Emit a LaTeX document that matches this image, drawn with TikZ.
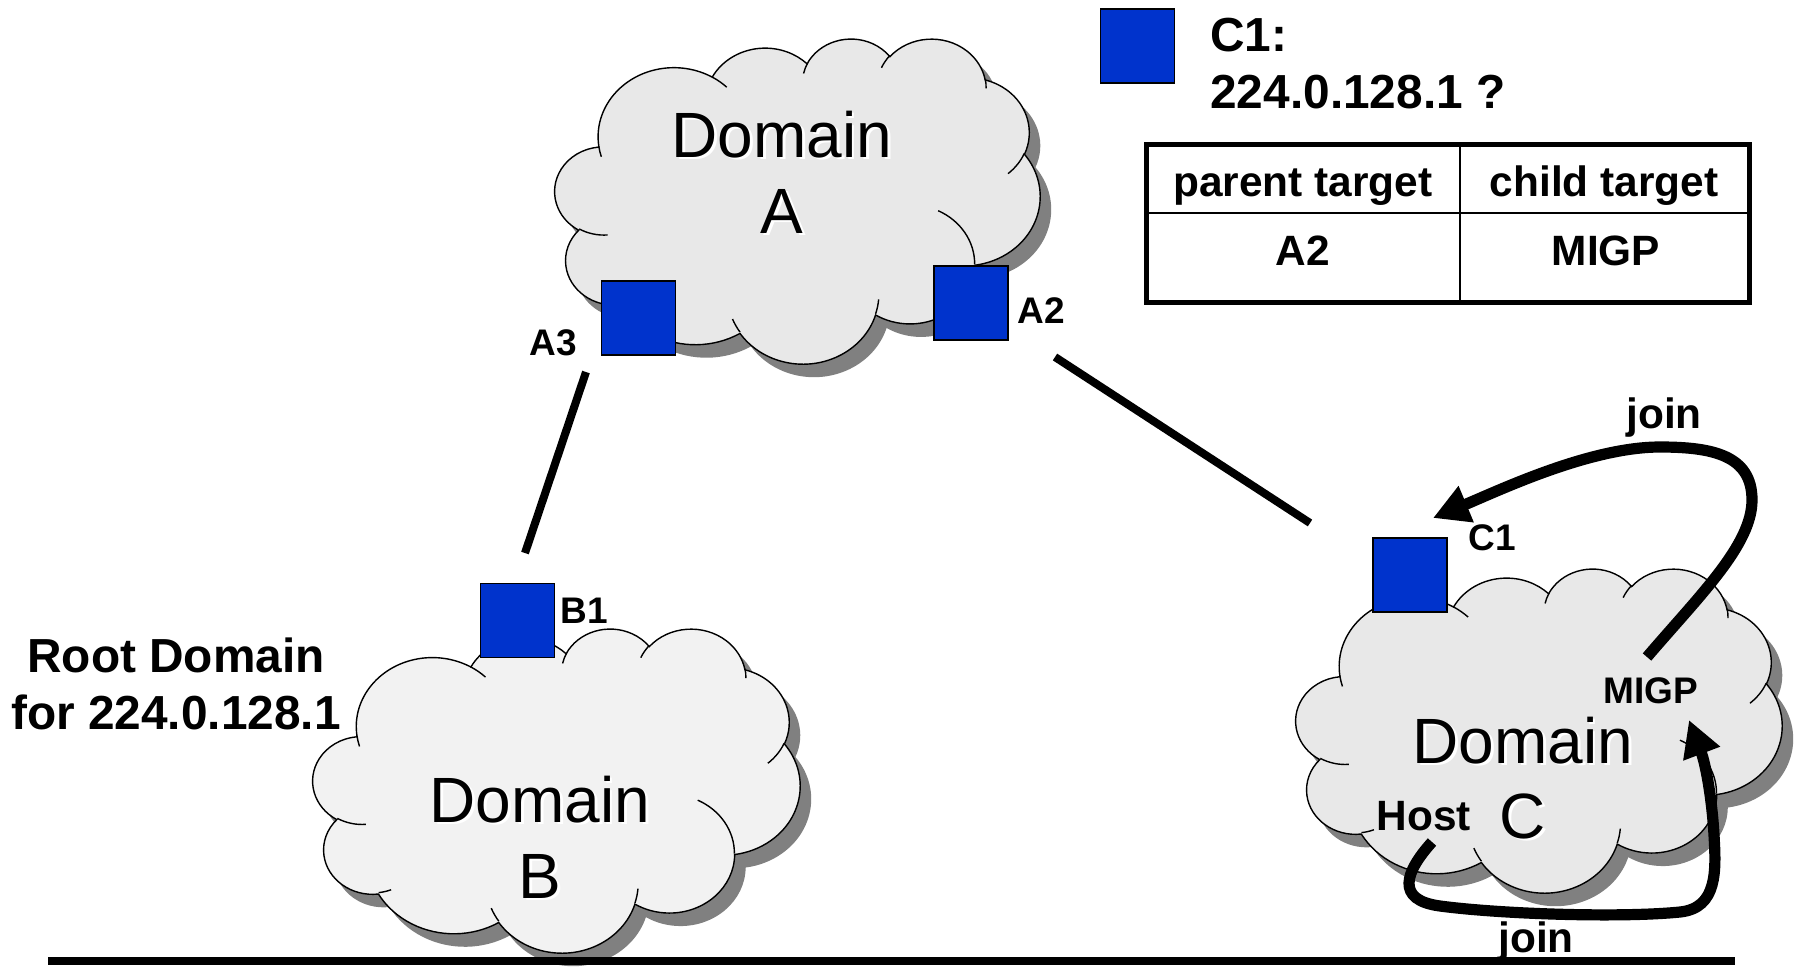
\documentclass[tikz,border=0pt]{standalone}
\usepackage{fontspec}
\setmainfont{Liberation Sans}
\usetikzlibrary{arrows.meta}

\definecolor{routerblue}{HTML}{0033CC}
\definecolor{cloudgray}{HTML}{E8E8E8}
\definecolor{cloudpale}{HTML}{F2F2F2}
\definecolor{cloudshade}{HTML}{808080}

% Elliptical arc given by radii, visual start angle and sweep (degrees).
\newcommand\ooarc[4]{%
  \pgfextra{%
    \pgfmathparse{atan2((#1)*sin(#3),(#2)*cos(#3))}\xdef\ooTs{\pgfmathresult}%
    \pgfmathparse{atan2((#1)*sin((#3)+(#4)),(#2)*cos((#3)+(#4)))}\xdef\ooTe{\pgfmathresult}%
    \pgfmathparse{mod((\ooTe)-(\ooTs)+720,360)}\xdef\ooTd{\pgfmathresult}%
  }%
  arc[x radius=#1, y radius=#2, start angle=\ooTs, delta angle=\ooTd]%
}

% Cloud outline on a 43.2 x 43.2 grid
\newcommand\cloudoutline{%
  (3.900,14.370)
  \ooarc{6.753}{9.190}{-190.4875}{123.7805}
  \ooarc{5.333}{7.267}{-144.1024}{89.9452}
  \ooarc{4.365}{5.945}{-145.8079}{99.7230}
  \ooarc{4.857}{6.595}{-130.9861}{117.2417}
  \ooarc{5.333}{7.273}{-78.7089}{109.0269}
  \ooarc{6.775}{9.220}{-46.2673}{130.2690}
  \ooarc{5.785}{7.867}{0.6250}{114.0333}
  \ooarc{6.752}{9.215}{22.4516}{115.1726}
  \ooarc{7.720}{10.543}{66.2426}{75.7110}
  \ooarc{4.360}{5.918}{-274.9421}{146.7356}
  \ooarc{4.345}{5.945}{-246.8285}{152.5189}
  -- cycle}

% Small inner creases of the cloud
\newcommand\cloudcreases{%
  (4.693,26.177) \ooarc{4.345}{5.945}{86.7420}{26.4295}
  (6.928,34.899) \ooarc{4.360}{5.918}{73.6105}{11.4475}
  (16.478,39.090) \ooarc{6.752}{9.215}{137.6242}{14.0811}
  (28.827,34.751) \ooarc{6.752}{9.215}{6.4533}{15.9984}
  (34.129,22.954) \ooarc{5.785}{7.867}{-70.2924}{70.9174}
  (41.798,15.354) \ooarc{5.333}{7.273}{30.3180}{27.7515}
  (38.324,5.426) \ooarc{4.857}{6.595}{-13.7443}{14.8589}
  (29.078,3.952) \ooarc{4.857}{6.595}{-149.1815}{18.1954}
  (22.141,4.720) \ooarc{4.365}{5.945}{-163.4943}{17.6864}
  (14.000,5.192) \ooarc{6.753}{9.190}{-66.7070}{12.3194}
  (4.127,15.789) \ooarc{6.753}{9.190}{157.6544}{11.8582}}

% #1,#2 top-left corner, #3 width, #4 height, #5 fill colour
\newcommand\cloudshape[5]{%
  \begin{scope}[shift={(#1+11,#2+13)},xscale=#3/43.2,yscale=#4/43.2]
    \fill[cloudshade] \cloudoutline;
  \end{scope}
  \begin{scope}[shift={(#1,#2)},xscale=#3/43.2,yscale=#4/43.2]
    \filldraw[fill=#5,draw=black,line width=0.7pt] \cloudoutline;
    \draw[line width=0.7pt] \cloudcreases;
  \end{scope}}

% Domain caption with its light offset copy
\newcommand\domlabel[4]{%
  \node[domtext,text=white] (#1s) at (#2+2.5,#3+2.5) {#4};
  \node[domtext] (#1) at (#2,#3) {#4};}

\tikzset{
  router/.style={draw=black,line width=0.85pt,fill=routerblue,minimum size=37pt,inner sep=0pt},
  tag/.style={font=\bfseries\fontsize{18.5}{22}\selectfont,inner sep=0pt,anchor=base},
  note/.style={font=\bfseries\fontsize{21.2}{25}\selectfont,inner sep=0pt,anchor=base},
  big/.style={font=\bfseries\fontsize{23.9}{28}\selectfont,inner sep=0pt,anchor=base},
  cell/.style={font=\bfseries\fontsize{21.2}{25}\selectfont,inner sep=0pt,anchor=base},
  domtext/.style={font=\fontsize{32}{38}\selectfont,inner sep=0pt,anchor=base},
  link/.style={line width=4pt},
  ground/.style={line width=3.6pt},
  joinarrow/.style={line width=5.6pt,-{Triangle[length=18pt,width=18.5pt]}},
}

\begin{document}
\begin{tikzpicture}[x=0.5pt,y=-0.5pt]
\useasboundingbox (0,0) rectangle (1794,966);

% domains
\cloudshape{313}{628}{487}{324}{cloudpale}
\cloudshape{555}{38}{485}{325}{cloudgray}
\cloudshape{1296}{568}{486}{324}{cloudgray}

\domlabel{domA}{782}{157}{Domain}
\domlabel{domAl}{782}{233}{A}
\domlabel{domB}{540}{822}{Domain}
\domlabel{domBl}{540}{898}{B}
\domlabel{domC}{1523}{763}{Domain}
\domlabel{domCl}{1523}{838}{C}

% ground line
\coordinate (gl) at (48,961);
\coordinate (gr) at (1735,961);
\draw[ground] (gl) -- (gr);

% inter-domain links
\coordinate (l1a) at (586,372);
\coordinate (l1b) at (525,553);
\draw[link] (l1a) -- (l1b);
\coordinate (l2a) at (1055,357);
\coordinate (l2b) at (1310,523);
\draw[link] (l2a) -- (l2b);

% border routers
\node[router] (a3) at (638.5,318) {};
\node[router] (a2) at (971,303) {};
\node[router] (b1) at (517.5,620.5) {};
\node[router] (c1) at (1410,575) {};
\node[router] (key) at (1137.5,46) {};

\node[tag] (a3l) at (553,355) {A3};
\node[tag] (a2l) at (1041,323) {A2};
\node[tag] (b1l) at (584,623) {B1};
\node[tag] (c1l) at (1492,550) {C1};
\node[tag] (migp) at (1651,703) {MIGP};
\node[note] (host) at (1424,830) {Host};

% join messages
\coordinate (jt0) at (1647,657);
\coordinate (jt1) at (1433,518);
\draw[joinarrow] (jt0) .. controls (1700,595) and (1752,545) .. (1752,500)
  .. controls (1752,455) and (1712,447) .. (1660,447)
  .. controls (1590,447) and (1500,490) .. (jt1);
\coordinate (jb0) at (1432,842);
\coordinate (jb1) at (1689,720);
\draw[joinarrow] (jb0) .. controls (1405,872) and (1395,900) .. (1440,906)
  .. controls (1500,914) and (1620,918) .. (1680,912)
  .. controls (1718,908) and (1716,870) .. (1714,835)
  .. controls (1712,800) and (1706,765) .. (jb1);
\node[note] (jointop) at (1664,428) {join};
\node[note] (joinbot) at (1536,952) {join};

% root domain note
\node[big] (root1) at (176,672) {Root Domain};
\node[big] (root2) at (176,729) {for 224.0.128.1};

% lookup at C1
\node[big,anchor=base west] (key1) at (1210,51) {C1:};
\node[big,anchor=base west] (key2) at (1210,108) {224.0.128.1 ?};

\node[draw,line width=2.5pt,minimum width=301.5pt,minimum height=79pt,inner sep=0pt] (tbl) at (1448,223.5) {};
\coordinate (vdiv) at (1460,223.5);
\coordinate (hdiv) at (1448,213);
\draw[line width=1.3pt] (vdiv |- tbl.north) -- (vdiv |- tbl.south);
\draw[line width=1.3pt] (tbl.west |- hdiv) -- (tbl.east |- hdiv);
\node[cell] (h1) at (1303,196) {parent target};
\node[cell] (h2) at (1604,196) {child target};
\node[cell] (r1) at (1303,265) {A2};
\node[cell] (r2) at (1606,265) {MIGP};
\end{tikzpicture}
\end{document}
